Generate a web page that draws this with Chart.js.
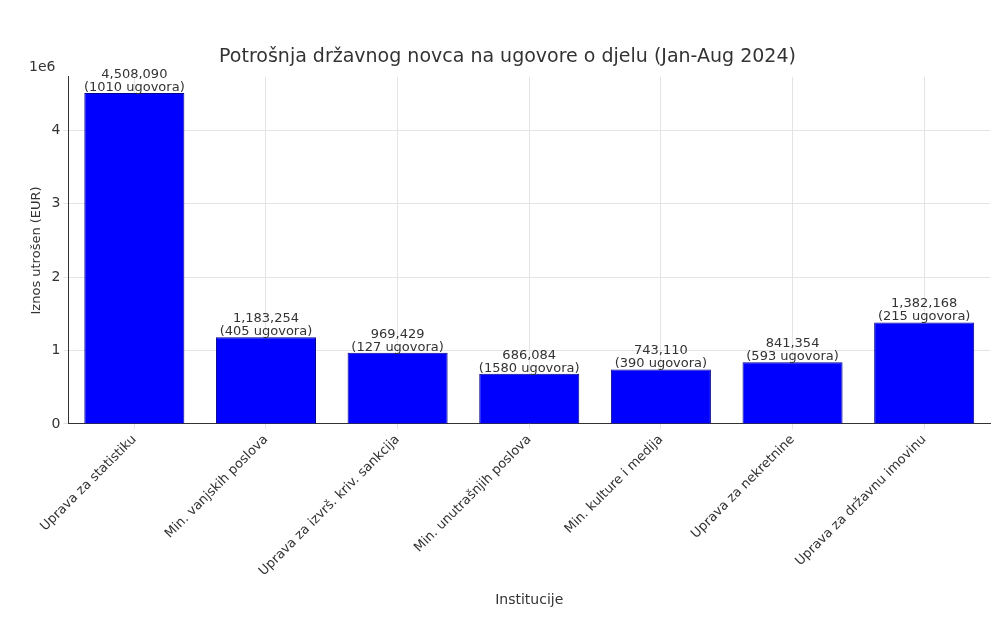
<!DOCTYPE html>
<html>
<head>
<title>Potrošnja državnog novca</title>
<script src="https://cdn.jsdelivr.net/npm/chart.js"></script>
<style>
  body { margin: 0; background: #fff; }
  #wrap { width: 1000px; height: 642px; }
</style>
</head>
<body>
<div id="wrap"><canvas id="chart"></canvas></div>
<script>
const institutions = ['Uprava za statistiku', 'Min. vanjskih poslova', 'Uprava za izvrš. kriv. sankcija',
  'Min. unutrašnjih poslova', 'Min. kulture i medija', 'Uprava za nekretnine', 'Uprava za državnu imovinu'];
const amounts = [4508090, 1183254, 969429, 686084, 743110, 841354, 1382168];
const contracts = [1010, 405, 127, 1580, 390, 593, 215];
const yTicks = [0, 1, 2, 3, 4];

// value + contract count above each bar, and the "1e6" offset label
const barLabels = {
  id: 'barLabels',
  afterDatasetsDraw(chart) {
    const ctx = chart.ctx;
    const meta = chart.getDatasetMeta(0);
    ctx.save();
    ctx.fillStyle = '#333';
    ctx.font = '13px "DejaVu Sans"';
    ctx.textAlign = 'center';
    meta.data.forEach((bar, i) => {
      ctx.textBaseline = 'bottom';
      ctx.fillText(amounts[i].toLocaleString('en-US'), bar.x, bar.y - 12);
      ctx.fillText('(' + contracts[i] + ' ugovora)', bar.x, bar.y + 1);
    });
    const y = chart.scales.y;
    ctx.textAlign = 'left';
    ctx.font = '14px "DejaVu Sans"';
    ctx.fillText('1e6', y.left + 4, chart.chartArea.top - 2);
    ctx.restore();
  }
};

new Chart(document.getElementById('chart'), {
  type: 'bar',
  data: {
    labels: institutions,
    datasets: [{
      data: amounts,
      backgroundColor: '#0000ff',
      borderColor: '#00008b',
      borderWidth: 1,
      barPercentage: 0.76,
      categoryPercentage: 1
    }]
  },
  options: {
    responsive: true,
    maintainAspectRatio: false,
    animation: false,
    layout: { padding: { top: 6, right: 10, left: 25, bottom: 29 } },
    plugins: {
      legend: { display: false },
      tooltip: { enabled: false },
      title: {
        display: true,
        text: 'Potrošnja državnog novca na ugovore o djelu (Jan-Aug 2024)',
        color: '#333',
        font: { family: 'DejaVu Sans', size: 19, weight: 'normal' },
        padding: { top: 40, bottom: 8 }
      }
    },
    scales: {
      x: {
        offset: true,
        grid: { color: '#e4e4e4', offset: false, tickLength: 5 },
        border: { color: '#333' },
        ticks: { color: '#333', maxRotation: 45, minRotation: 45, font: { family: 'DejaVu Sans', size: 13 } },
        title: { display: true, text: 'Institucije', color: '#333', font: { family: 'DejaVu Sans', size: 14 }, padding: { top: 10 } }
      },
      y: {
        min: 0,
        max: 4730000,
        afterBuildTicks(axis) { axis.ticks = yTicks.map(v => ({ value: v * 1e6 })); },
        grid: { color: '#e4e4e4', tickLength: 5 },
        border: { color: '#333' },
        ticks: { color: '#333', font: { family: 'DejaVu Sans', size: 14 }, callback: v => String(v / 1e6) },
        title: { display: true, text: 'Iznos utrošen (EUR)', color: '#333', font: { family: 'Liberation Sans Narrow, DejaVu Sans', size: 13 } }
      }
    }
  },
  plugins: [barLabels]
});
</script>
</body>
</html>
